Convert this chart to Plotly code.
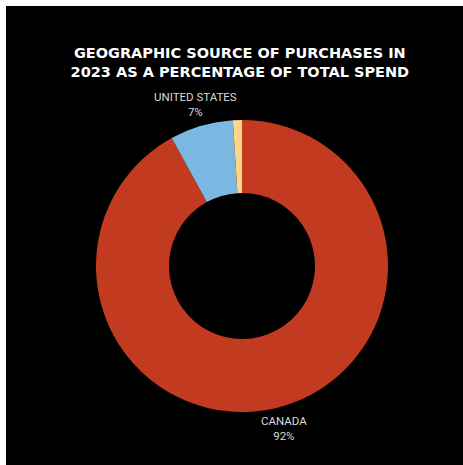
import math
import plotly.graph_objects as go

regions = ["CANADA", "UNITED STATES", "OTHER"]
shares = [92, 7, 1]
label_texts = ["CANADA<br>92%", "UNITED STATES<br>7%", ""]
colors = ["#C23A1F", "#7AB8E2", "#FED686"]

W, H = 463, 465
cx, cy, r = 242, 266, 146
label_gap = 22

fig = go.Figure(go.Pie(
    labels=regions,
    values=shares,
    textinfo="none",
    hole=0.5,
    sort=False,
    direction="clockwise",
    rotation=0,
    marker=dict(colors=colors, line=dict(width=0)),
    showlegend=False,
    hoverinfo="label+percent",
    domain=dict(x=[(cx - r) / W, (cx + r) / W],
                y=[(H - cy - r) / H, (H - cy + r) / H]),
))

# Centered outside labels at the mid-angle of each slice
total = sum(shares)
annotations = []
cum = 0
for name, v, txt in zip(regions, shares, label_texts):
    mid = (cum + v / 2) / total * 2 * math.pi
    cum += v
    if not txt:
        continue
    px = cx + (r + label_gap) * math.sin(mid)
    py = cy - (r + label_gap) * math.cos(mid)
    annotations.append(dict(
        x=px / W, y=1 - py / H, xref="paper", yref="paper",
        text=txt, showarrow=False, xanchor="center", yanchor="middle",
        align="center",
        font=dict(family="Roboto", size=11.5, color="#d9d9d9"),
    ))

fig.update_layout(
    width=W, height=H,
    margin=dict(l=0, r=0, t=0, b=0),
    paper_bgcolor="#000000",
    plot_bgcolor="#000000",
    title=dict(
        text="GEOGRAPHIC SOURCE OF PURCHASES IN<br>2023 AS A PERCENTAGE OF TOTAL SPEND",
        x=0.518, xanchor="center",
        y=1 - 58 / H, yanchor="top",
        font=dict(family="DejaVu Sans", size=14.5, color="#ffffff", weight="bold"),
    ),
    annotations=annotations,
    shapes=[
        dict(type="rect", xref="paper", yref="paper", x0=0, x1=6 / W, y0=0, y1=1,
             fillcolor="#ffffff", line=dict(width=0), layer="above"),
        dict(type="rect", xref="paper", yref="paper", x0=0, x1=1, y0=1 - 6 / H, y1=1,
             fillcolor="#ffffff", line=dict(width=0), layer="above"),
    ],
)

fig.write_html("out.html")
